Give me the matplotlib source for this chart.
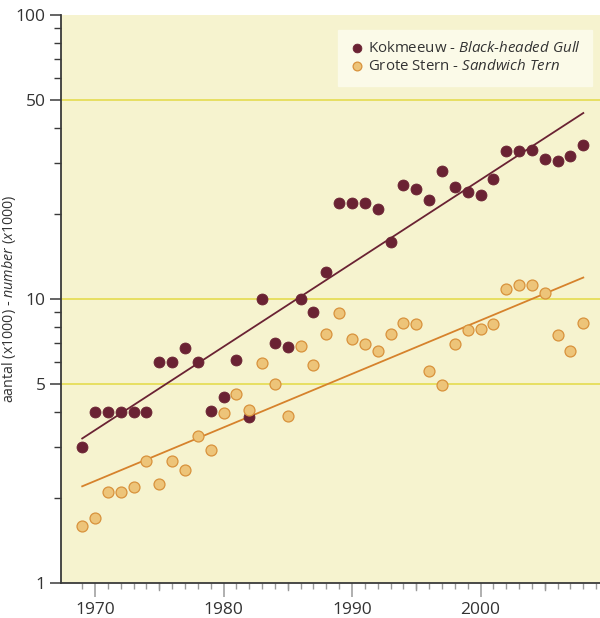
import numpy as np
import matplotlib
matplotlib.use("Agg")
import matplotlib.pyplot as plt
from matplotlib.ticker import FixedLocator, NullFormatter, FixedFormatter

years = list(range(1969, 2009))
gull = [3.0, 4.0, 4.0, 4.0, 4.0, 4.0, 6.0, 6.0, 6.7, 6.0,
        4.03, 4.5, 6.1, 3.83, 10.0, 7.0, 6.8, 10.0, 9.0, 12.4,
        21.8, 21.8, 21.8, 20.8, 15.9, 25.3, 24.3, 22.3, 28.2, 24.8,
        23.8, 23.3, 26.5, 33.1, 33.3, 33.4, 31.0, 30.7, 31.9, 34.9]
tern = [1.59, 1.69, 2.09, 2.09, 2.18, 2.68, 2.24, 2.68, 2.49, 3.28,
        2.93, 3.97, 4.62, 4.08, 5.95, 5.02, 3.87, 6.85, 5.86, 7.55,
        8.93, 7.23, 6.94, 6.56, 7.55, 8.23, 8.15, 5.56, 4.97, 6.96,
        7.76, 7.84, 8.15, 10.87, 11.17, 11.17, 10.47, 7.45, 6.56, 8.21]

ytick_vals = [1, 5, 10, 50, 100]
ytick_labels = ["1", "5", "10", "50", "100"]
xtick_vals = [1970, 1980, 1990, 2000]
grid_vals = [5, 10, 50]

label_gull = r"Kokmeeuw - $\it{Black\text{-}headed\ Gull}$"
label_tern = r"Grote Stern - $\it{Sandwich\ Tern}$"
ylabel = r"aantal (x1000) - $\it{number\ (x1000)}$"

plt.rcParams['font.family'] = ['Open Sans', 'DejaVu Sans']
plt.rcParams['mathtext.fontset'] = 'custom'
plt.rcParams['mathtext.rm'] = 'Open Sans'
plt.rcParams['mathtext.it'] = 'Open Sans:italic'

c_gull = '#6A2233'
c_tern_fill = '#EDC479'
c_tern_edge = '#D8923C'
c_tern_line = '#D6822C'
bg = '#F6F3CF'
grid_c = '#E3D944'

fig = plt.figure(figsize=(6.0, 6.18), dpi=100)
ax = fig.add_axes([61/600, 35/618, 539/600, 568/618])
ax.set_facecolor(bg)
ax.set_yscale('log')
ax.set_ylim(1, 100)
ax.set_xlim(1967.35, 2009.3)

for g in grid_vals:
    ax.axhline(g, color=grid_c, lw=1.1, zorder=1)

x = np.array(years, dtype=float)
# trend lines (log-linear fit)
for vals, col in ((gull, c_gull), (tern, c_tern_line)):
    p = np.polyfit(x, np.log10(vals), 1)
    xx = np.array([x[0], x[-1]])
    ax.plot(xx, 10 ** np.polyval(p, xx), color=col, lw=1.3, zorder=2)

ax.scatter(x, gull, s=62, color=c_gull, edgecolor=c_gull, lw=0.6, zorder=3, label=label_gull)
ax.scatter(x, tern, s=62, color=c_tern_fill, edgecolor=c_tern_edge, lw=0.9, zorder=4, label=label_tern)

for s in ('top', 'right'):
    ax.spines[s].set_visible(False)
for s in ('left', 'bottom'):
    ax.spines[s].set_color('#3a3a3a')
    ax.spines[s].set_linewidth(1.3)

ax.yaxis.set_major_locator(FixedLocator(ytick_vals))
ax.yaxis.set_major_formatter(FixedFormatter(ytick_labels))
minor_y = [v * d for d in (1, 10) for v in range(2, 10) if v * d not in ytick_vals]
ax.yaxis.set_minor_locator(FixedLocator(minor_y))
ax.yaxis.set_minor_formatter(NullFormatter())
ax.tick_params(axis='y', which='major', length=8, width=1.1, color='#3a3a3a', labelsize=12.5, labelcolor='#333333', pad=3)
ax.tick_params(axis='y', which='minor', length=5, width=1.0, color='#3a3a3a')

ax.set_xticks(xtick_vals)
ax.set_xticklabels([str(v) for v in xtick_vals])
ax.xaxis.set_minor_locator(FixedLocator([yr for yr in range(1969, 2010) if yr % 10 != 0]))
ax.tick_params(axis='x', which='major', length=10, width=1.1, color='#9a9a9a', labelsize=12.5, labelcolor='#333333', pad=4)
ax.tick_params(axis='x', which='minor', length=4, width=1.0, color='#9a9a9a')
# mid-length ticks at the 5-year marks
xt = ax.get_xaxis_transform()
for yr in range(1975, 2010, 10):
    ax.plot([yr, yr], [0, -7/568], transform=xt, color='#9a9a9a', lw=1.0, clip_on=False, zorder=0)

ax.set_ylabel(ylabel, fontsize=10.3, color='#333333')
ax.yaxis.set_label_coords(-43/539, 0.5)

leg = ax.legend(loc='upper right', bbox_to_anchor=(1 - 8/539, 1 - 15/568), borderaxespad=0,
                frameon=True, fontsize=10.8,
                handletextpad=0.25, borderpad=0.75, labelspacing=0.2, handlelength=1.0,
                markerscale=0.8, fancybox=False)
leg.get_frame().set_facecolor('#FBFAE8')
leg.get_frame().set_edgecolor('#FBFAE8')
leg.get_frame().set_alpha(1)
for t in leg.get_texts():
    t.set_color('#333333')

fig.savefig('out.png', dpi=100)
